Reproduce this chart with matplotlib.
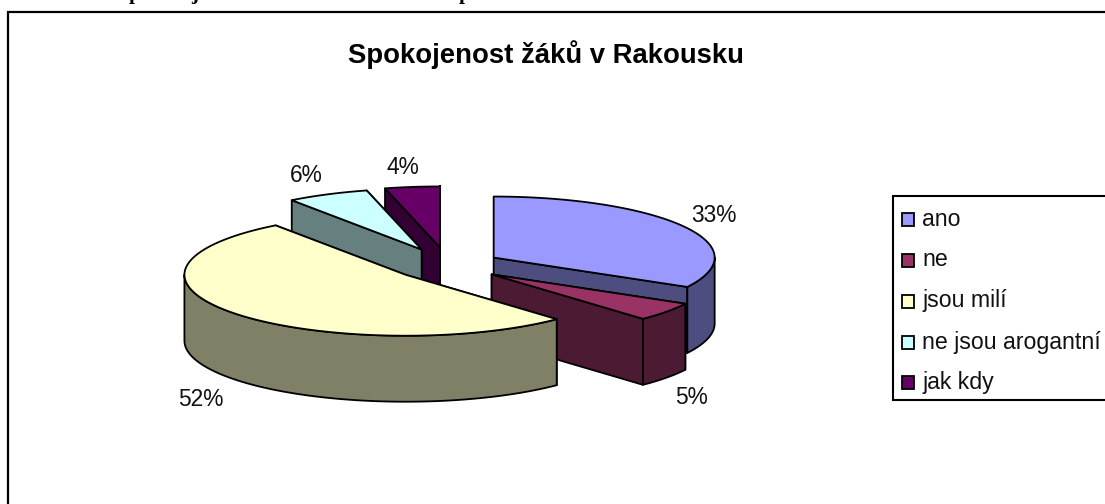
import numpy as np
import matplotlib
matplotlib.use("Agg")
import matplotlib.pyplot as plt
from matplotlib.patches import Polygon, Rectangle

labels = ["ano", "ne", "jsou milí", "ne jsou arogantní", "jak kdy"]
values = [33, 5, 52, 6, 4]
title = "Spokojenost žáků v Rakousku"

top_colors = ["#9999FF", "#993366", "#FFFFCC", "#CCFFFF", "#660066"]
side_colors = ["#4D4D80", "#4D1A33", "#808066", "#668080", "#330033"]
explode = [0.24, 0.25, 0.25, 0.28, 0.29]
draw_order = [4, 3, 0, 1, 2]

# pie geometry in pixels
cx, cy = 448, 265
rx, ry = 221, 61
depth = 66
lw = 1.3

plt.rcParams["font.family"] = ["Liberation Sans", "DejaVu Sans"]
fig = plt.figure(figsize=(11.05, 5.04), dpi=100)
ax = fig.add_axes([0, 0, 1, 1])
ax.set_xlim(0, 1105)
ax.set_ylim(504, 0)
ax.axis("off")


def rim(x0, y0, angles):
    a = np.radians(angles)
    return np.column_stack([x0 + rx * np.sin(a), y0 - ry * np.cos(a)])


def poly(pts, color, z):
    ax.add_patch(Polygon(pts, closed=True, fc=color, ec="black", lw=lw, joinstyle="round", zorder=z))


edges = np.concatenate([[0], np.cumsum(values)]) / sum(values) * 360

z = 2
for i in draw_order:
    a1, a2 = edges[i], edges[i + 1]
    mid = np.radians((a1 + a2) / 2)
    x0 = cx + explode[i] * rx * np.sin(mid)
    y0 = cy - explode[i] * ry * np.cos(mid)
    apex = np.array([[x0, y0]])
    down = np.array([0, depth])

    # straight walls, the one further back first
    walls = []
    for a in (a1, a2):
        c = rim(x0, y0, [a])
        walls.append(np.vstack([apex, c, c + down, apex + down]))
    walls.sort(key=lambda w: w[:, 1].mean())
    for w in walls:
        poly(w, side_colors[i], z)
        z += 1

    # curved wall, only the part that faces the viewer
    b1, b2 = max(a1, 90), min(a2, 270)
    if b2 > b1:
        arc = rim(x0, y0, np.linspace(b1, b2, 80))
        poly(np.vstack([arc, arc[::-1] + down]), side_colors[i], z)
        z += 1

    arc = rim(x0, y0, np.linspace(a1, a2, 120))
    poly(np.vstack([apex, arc]), top_colors[i], z)
    z += 1

# chart frame, runs off the picture to the right and the bottom
ax.plot([7.5, 7.5, 1110], [510, 12, 12], color="black", lw=1.6, zorder=1, solid_joinstyle="miter")

ax.text(546, 55, title, fontsize=19.8, fontweight="bold", ha="center", va="center")

# percent labels
label_x = [714, 691, 201, 306, 403]
label_y = [216, 397, 400, 175, 168]
for v, x, y in zip(values, label_x, label_y):
    ax.text(x, y, "%d%%" % v, fontsize=16.4, ha="center", va="center", color="#111111", zorder=50)

# legend box, also cut by the right edge
ax.add_patch(Rectangle((893, 196), 230, 203.5, fc="white", ec="black", lw=1.5, zorder=60))
legend_y = [219, 260, 301, 342, 382]
for lab, col, y in zip(labels, top_colors, legend_y):
    ax.add_patch(Rectangle((901.5, y - 6.5), 12.5, 13, fc=col, ec="black", lw=1.3, zorder=61))
    ax.text(922, y, lab, fontsize=16.7, ha="left", va="center", color="#111111", zorder=61)

# remains of the document line above the chart, only descenders are left
for x, ch in zip([135, 195, 465], "pjp"):
    ax.text(x, -1, ch, fontsize=15, fontweight="bold", family="Liberation Serif",
            ha="center", va="baseline", clip_on=False)

fig.savefig("out.png", dpi=100)
